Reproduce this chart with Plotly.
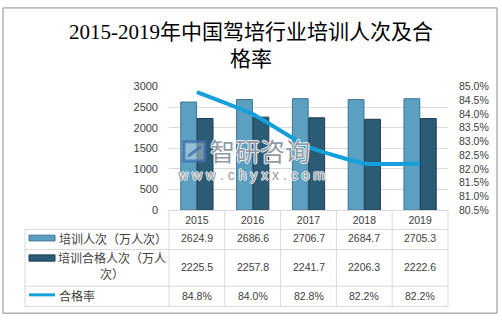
import plotly.graph_objects as go

# Data
years = ["2015", "2016", "2017", "2018", "2019"]
trainees = [2624.9, 2686.6, 2706.7, 2684.7, 2705.3]        # 培训人次（万人次）
passed = [2225.5, 2257.8, 2241.7, 2206.3, 2222.6]          # 培训合格人次（万人次）
pass_rate = [84.8, 84.0, 82.8, 82.2, 82.2]                 # 合格率 (%)

W, H = 502, 323


def px(x):
    return x / W


def py(y):
    return 1 - y / H


C_BAR1 = "#5b9fc1"
C_BAR1_EDGE = "#3f7592"
C_BAR2 = "#2c5b76"
C_BAR2_EDGE = "#1d3d51"
C_LINE = "#14a0db"
C_GRID = "#d9d9d9"
C_TEXT = "#404040"
NUM_FONT = "Liberation Sans, Arial, sans-serif"
CJK_FONT = "Noto Sans CJK SC, sans-serif"

fig = go.Figure()

fig.add_trace(go.Bar(
    x=years, y=trainees, name="培训人次（万人次）",
    marker=dict(color=C_BAR1, line=dict(color=C_BAR1_EDGE, width=1)),
    yaxis="y",
))
fig.add_trace(go.Bar(
    x=years, y=passed, name="培训合格人次（万人次）",
    marker=dict(color=C_BAR2, line=dict(color=C_BAR2_EDGE, width=1)),
    yaxis="y",
))
fig.add_trace(go.Scatter(
    x=years, y=pass_rate, name="合格率", mode="lines",
    line=dict(color=C_LINE, width=4, shape="spline", smoothing=0.4),
    yaxis="y2",
))

x_left, x_right = 169, 448
y_top, y_bot = 83.7, 212
col_w = (x_right - x_left) / len(years)

fig.update_layout(
    width=W, height=H,
    margin=dict(l=0, r=0, t=0, b=0),
    paper_bgcolor="white", plot_bgcolor="white",
    showlegend=False,
    barmode="group", bargap=0.41, bargroupgap=0.04,
    xaxis=dict(
        type="category", range=[-0.5, len(years) - 0.5],
        domain=[px(x_left), px(x_right)],
        showgrid=False, showline=True, linecolor=C_GRID, linewidth=1,
        ticks="", tickfont=dict(family=NUM_FONT, size=10.5, color=C_TEXT),
    ),
    yaxis=dict(
        domain=[py(y_bot), py(y_top)],
        range=[0, 3000], dtick=500,
        showgrid=True, gridcolor=C_GRID, gridwidth=1,
        zeroline=False, showline=False, ticks="",
        ticklabelstandoff=10,
        tickfont=dict(family=NUM_FONT, size=11, color=C_TEXT),
    ),
    yaxis2=dict(
        overlaying="y", side="right",
        range=[80.5, 85.0], dtick=0.5, tickformat=".1f", ticksuffix="%",
        showgrid=False, zeroline=False, showline=False, ticks="",
        ticklabelstandoff=10,
        tickfont=dict(family=NUM_FONT, size=10.5, color=C_TEXT),
    ),
)

shapes = []
annotations = []

# Outer frame
shapes.append(dict(type="rect", xref="paper", yref="paper",
                   x0=px(3), x1=px(497), y0=py(319), y1=py(2),
                   line=dict(color="#8c8c8c", width=1)))

# Data table grid under the chart
col_edges = [x_left + i * col_w for i in range(len(years) + 1)]
row_edges = [232, 253, 291, 312]
for xe in col_edges:
    shapes.append(dict(type="line", xref="paper", yref="paper",
                       x0=px(xe), x1=px(xe), y0=py(y_bot), y1=py(row_edges[-1]),
                       line=dict(color=C_GRID, width=1)))
shapes.append(dict(type="line", xref="paper", yref="paper",
                   x0=px(25), x1=px(25), y0=py(row_edges[0]), y1=py(row_edges[-1]),
                   line=dict(color=C_GRID, width=1)))
for ye in row_edges:
    shapes.append(dict(type="line", xref="paper", yref="paper",
                       x0=px(25), x1=px(x_right), y0=py(ye), y1=py(ye),
                       line=dict(color=C_GRID, width=1)))

# Legend keys in the table's first column
shapes.append(dict(type="rect", xref="paper", yref="paper",
                   x0=px(29), x1=px(55), y0=py(244), y1=py(238),
                   fillcolor=C_BAR1, line=dict(color=C_BAR1_EDGE, width=1)))
shapes.append(dict(type="rect", xref="paper", yref="paper",
                   x0=px(29), x1=px(55), y0=py(265), y1=py(258.5),
                   fillcolor=C_BAR2, line=dict(color=C_BAR2_EDGE, width=1)))
shapes.append(dict(type="line", xref="paper", yref="paper",
                   x0=px(29), x1=px(55), y0=py(300), y1=py(300),
                   line=dict(color=C_LINE, width=3)))

label_font = dict(family=CJK_FONT, size=12, color=C_TEXT)
annotations.append(dict(text="培训人次（万人次）", xref="paper", yref="paper",
                        x=px(57), y=py(241), xanchor="left", yanchor="middle",
                        showarrow=False, font=label_font))
annotations.append(dict(text="培训合格人次（万人<br>次）", xref="paper", yref="paper",
                        x=px(112), y=py(270), xanchor="center", yanchor="middle",
                        align="center", showarrow=False, font=label_font))
annotations.append(dict(text="合格率", xref="paper", yref="paper",
                        x=px(57), y=py(301), xanchor="left", yanchor="middle",
                        showarrow=False, font=label_font))

val_font = dict(family=NUM_FONT, size=10.5, color=C_TEXT)
rows = [
    (trainees, 241, "{:.1f}"),
    (passed, 271, "{:.1f}"),
    (pass_rate, 301.5, "{:.1f}%"),
]
for values, yc, fmt in rows:
    for i, v in enumerate(values):
        annotations.append(dict(text=fmt.format(v), xref="paper", yref="paper",
                                x=px(x_left + (i + 0.5) * col_w), y=py(yc),
                                xanchor="center", yanchor="middle",
                                showarrow=False, font=val_font))

# Title
annotations.append(dict(
    text="2015-2019年中国驾培行业培训人次及合<br>格率",
    xref="paper", yref="paper", x=0.5, y=py(41),
    xanchor="center", yanchor="middle", align="center", showarrow=False,
    font=dict(family="Liberation Serif, Noto Sans CJK SC, serif", size=21, color="black"),
))

# Watermark (logo block + brand name + site address), outlined in white
WM_COLOR = "rgba(125,135,145,0.85)"
WM_HALO = "1px 0 0 white, -1px 0 0 white, 0 1px 0 white, 0 -1px 0 white"
shapes.append(dict(type="rect", xref="paper", yref="paper",
                   x0=px(184), x1=px(205), y0=py(161), y1=py(141),
                   line=dict(color="rgba(60,110,170,0.75)", width=3),
                   fillcolor="rgba(255,255,255,0.35)"))
shapes.append(dict(type="line", xref="paper", yref="paper",
                   x0=px(188), x1=px(201), y0=py(156), y1=py(146),
                   line=dict(color="rgba(60,110,170,0.75)", width=3)))
annotations.append(dict(text="智研咨询", xref="paper", yref="paper",
                        x=px(208), y=py(150), xanchor="left", yanchor="middle",
                        showarrow=False,
                        font=dict(family=CJK_FONT, size=25, color=WM_COLOR,
                                  shadow=WM_HALO)))
annotations.append(dict(text="w w w . c h y x x . c o m", xref="paper", yref="paper",
                        x=px(251), y=py(176), xanchor="center", yanchor="middle",
                        showarrow=False,
                        font=dict(family=NUM_FONT, size=14, color=WM_COLOR,
                                  shadow=WM_HALO)))

fig.update_layout(shapes=shapes, annotations=annotations)

fig.write_html("out.html")
